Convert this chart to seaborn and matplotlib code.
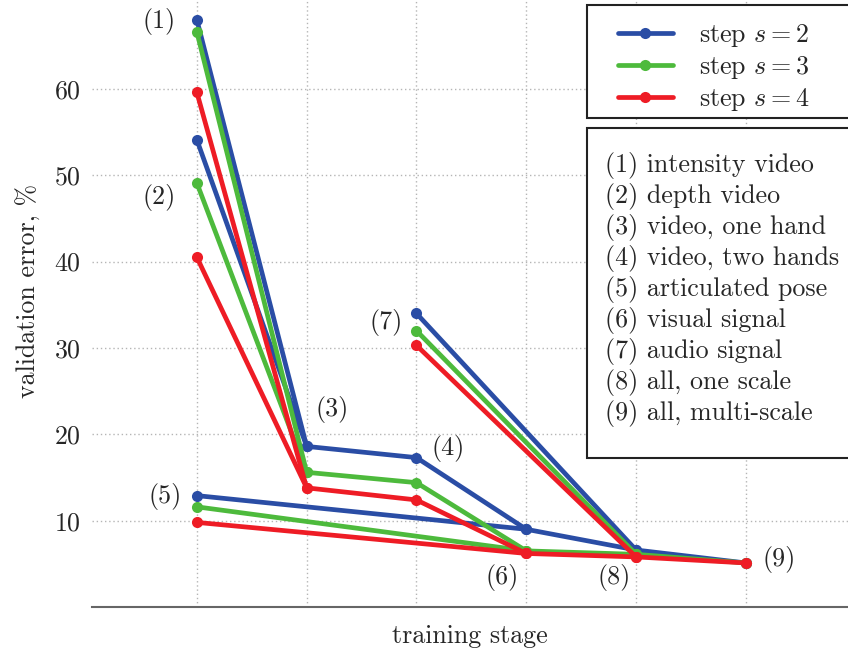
import matplotlib
matplotlib.use("Agg")
import matplotlib.pyplot as plt
from matplotlib.lines import Line2D
from matplotlib.patches import Rectangle
from matplotlib.legend_handler import HandlerLine2D
import seaborn as sns
import pandas as pd

# ---- data ----
steps = ["step $s=2$", "step $s=3$", "step $s=4$"]
colors = ["#2a4da5", "#4dba3c", "#ee1c25"]

# path A: (1)->(3)->(4)->(6)->(8)->(9)
path_a_x = [1, 2, 3, 4, 5, 6]
path_a_s2 = [68.0, 18.6, 17.3, 9.0, 6.6, 5.1]
path_a_s3 = [66.6, 15.6, 14.4, 6.5, 6.1, 5.1]
path_a_s4 = [59.6, 13.8, 12.4, 6.2, 5.8, 5.1]
# path B: (2)->(3)
path_b_x = [1, 2]
path_b_s2 = [54.1, 18.6]
path_b_s3 = [49.1, 15.6]
path_b_s4 = [40.5, 13.8]
# path C: (5)->(6)
path_c_x = [1, 4]
path_c_s2 = [12.9, 9.0]
path_c_s3 = [11.6, 6.5]
path_c_s4 = [9.8, 6.2]
# path D: (7)->(8)
path_d_x = [3, 5]
path_d_s2 = [34.0, 6.6]
path_d_s3 = [32.0, 6.1]
path_d_s4 = [30.3, 5.8]

annot_labels = ["(1)", "(2)", "(3)", "(4)", "(5)", "(6)", "(7)", "(8)", "(9)"]
annot_x = [0.66, 0.66, 2.23, 3.29, 0.71, 3.78, 2.72, 4.80, 6.30]
annot_y = [67.8, 47.4, 22.9, 18.3, 12.8, 3.4, 33.0, 3.4, 5.5]

legend_items = ["(1) intensity video", "(2) depth video", "(3) video, one hand",
                "(4) video, two hands", "(5) articulated pose", "(6) visual signal",
                "(7) audio signal", "(8) all, one scale", "(9) all, multi-scale"]

rows = []
series = {
    steps[0]: [(path_a_x, path_a_s2), (path_b_x, path_b_s2), (path_c_x, path_c_s2), (path_d_x, path_d_s2)],
    steps[1]: [(path_a_x, path_a_s3), (path_b_x, path_b_s3), (path_c_x, path_c_s3), (path_d_x, path_d_s3)],
    steps[2]: [(path_a_x, path_a_s4), (path_b_x, path_b_s4), (path_c_x, path_c_s4), (path_d_x, path_d_s4)],
}
for st, paths in series.items():
    for pi, (xs, ys) in enumerate(paths):
        for x, y in zip(xs, ys):
            rows.append({"stage": x, "error": y, "step": st, "path": pi})
df = pd.DataFrame(rows)

# ---- style ----
sns.set_style("white")
plt.rcParams["font.family"] = ["cmr10", "DejaVu Serif"]
plt.rcParams["mathtext.fontset"] = "cm"
plt.rcParams["axes.formatter.use_mathtext"] = True
FS = 18.7
W, H = 848, 653

fig = plt.figure(figsize=(8.48, 6.53), dpi=100)
ax = fig.add_axes([92 / W, 46 / H, 1 - 92 / W, 1 - 46 / H])

sns.lineplot(data=df, x="stage", y="error", hue="step", units="path",
             estimator=None, sort=False, palette=colors, hue_order=steps,
             marker="o", markersize=8, markeredgewidth=0, linewidth=3.4,
             legend=False, ax=ax)

ax.set_xlim(0.045, 6.93)
ax.set_ylim(0, 70.3)
ax.set_xticks([1, 2, 3, 4, 5, 6])
ax.set_xticklabels([])
ax.set_yticks([10, 20, 30, 40, 50, 60])
ax.tick_params(axis="y", length=0, labelsize=FS, pad=8)
ax.tick_params(axis="x", direction="in", length=6, color="#666666", width=1)
ax.grid(True, linestyle=(0, (1, 2)), color="#b5b5b5", linewidth=1)
for side in ["left", "right", "top"]:
    ax.spines[side].set_visible(False)
ax.spines["bottom"].set_color("#666666")
ax.spines["bottom"].set_linewidth(1.5)
ax.set_xlabel("training stage", fontsize=FS, labelpad=9)
ax.set_ylabel("validation error, %", fontsize=FS)
ax.yaxis.set_label_coords((41 - 92) / 756, (607 - 291) / 607)

for lab, x, y in zip(annot_labels, annot_x, annot_y):
    ax.text(x, y, lab, fontsize=FS, ha="center", va="center")

# legend frames (extend past the right edge, as in the reference)
for (x0, y0, x1, y1) in [(587, 5, 870, 118), (587, 128, 870, 458)]:
    fig.add_artist(Rectangle((x0 / W, 1 - y1 / H), (x1 - x0) / W, (y1 - y0) / H,
                             transform=fig.transFigure, facecolor="white",
                             edgecolor="#222222", linewidth=1.5, zorder=1))

handles = [Line2D([], [], color=c, lw=3.4, marker="o", markersize=8, markeredgewidth=0) for c in colors]
leg1 = fig.legend(handles, steps, loc="upper left",
                  bbox_to_anchor=(587 / W, 1 - 10 / H),
                  fontsize=FS, frameon=False, numpoints=1,
                  handlelength=2.85, labelspacing=0.2, borderpad=0.45, handletextpad=1.0,
                  borderaxespad=0,
                  handler_map={Line2D: HandlerLine2D(xpad=0.73)})

blank = [Line2D([], [], alpha=0) for _ in legend_items]
leg2 = fig.legend(blank, legend_items, loc="upper left",
                  bbox_to_anchor=(582 / W, 1 - 129 / H),
                  fontsize=FS, frameon=False,
                  handlelength=0, handletextpad=0, labelspacing=0.15, borderpad=0.9,
                  borderaxespad=0)

fig.savefig("out.png", dpi=100)
